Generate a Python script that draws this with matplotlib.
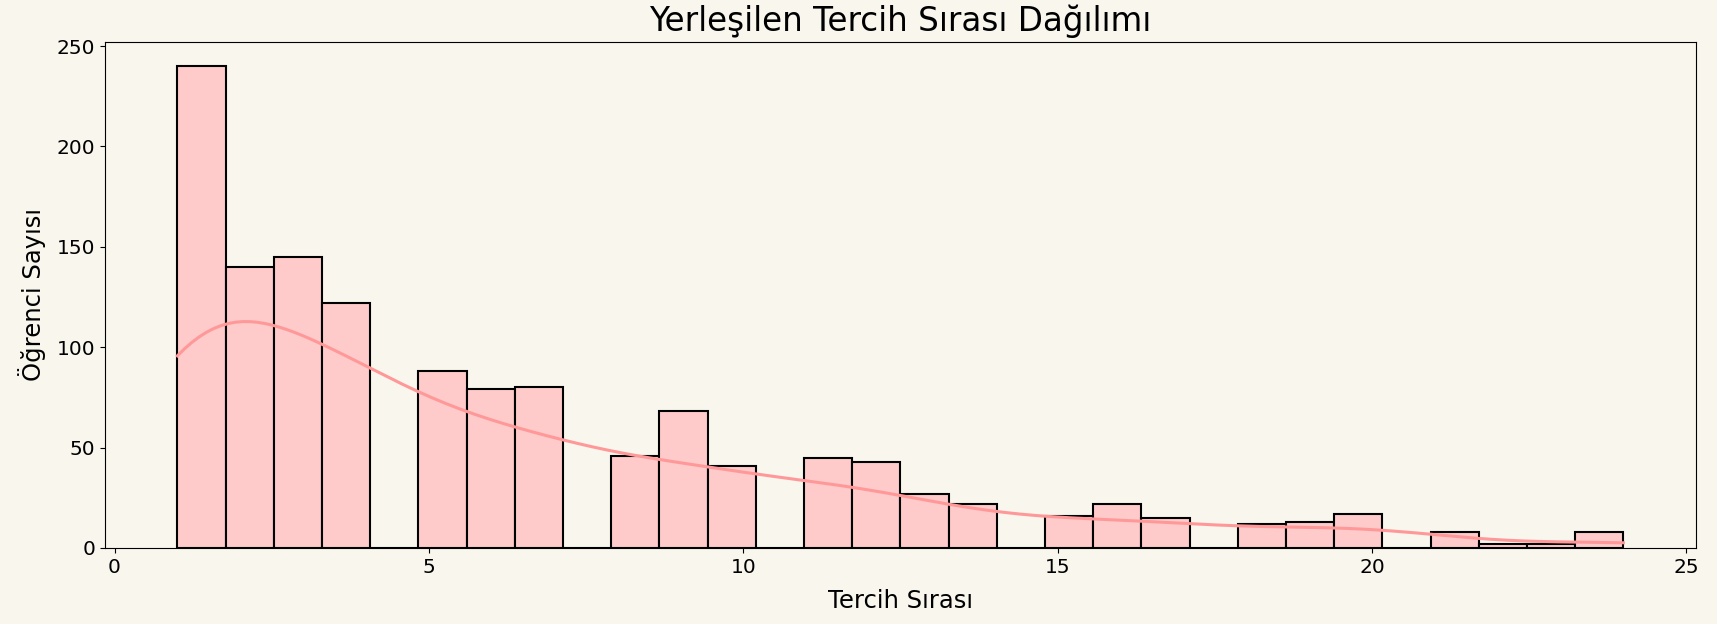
import numpy as np
import matplotlib
matplotlib.use("Agg")
import matplotlib.pyplot as plt
import seaborn as sns

# yerlesilen tercih sirasi -> ogrenci sayisi
tercih_sirasi = [1, 2, 3, 4, 5, 6, 7, 8, 9, 10, 11, 12,
                 13, 14, 15, 16, 17, 18, 19, 20, 21, 22, 23, 24]
ogrenci_sayisi = [240, 140, 145, 122, 88, 79, 80, 46, 68, 41, 45, 43,
                  27, 22, 16, 22, 15, 12, 13, 17, 8, 2, 2, 8]

title = "Yerleşilen Tercih Sırası Dağılımı"
xlabel = "Tercih Sırası"
ylabel = "Öğrenci Sayısı"

bg = "#f9f6ee"

data = np.repeat(tercih_sirasi, ogrenci_sayisi)

fig, ax = plt.subplots(figsize=(17.17, 6.24), dpi=100)
fig.patch.set_facecolor(bg)
ax.set_facecolor(bg)

sns.histplot(data, bins=30, kde=True, color="#ff9999", alpha=0.5,
             edgecolor="black", linewidth=1.5, line_kws={"linewidth": 2.2}, ax=ax)
for p in ax.patches:
    p.set_facecolor("#ffcaca")
    p.set_alpha(1)

ax.set_title(title, fontsize=23.5, pad=8)
ax.set_xlabel(xlabel, fontsize=17.5, labelpad=9)
ax.set_ylabel(ylabel, fontsize=17.5, labelpad=8)
ax.tick_params(labelsize=14.5)

plt.subplots_adjust(left=0.0612, right=0.9876, top=0.9327, bottom=0.1218)
plt.savefig("out.png", facecolor=bg)
